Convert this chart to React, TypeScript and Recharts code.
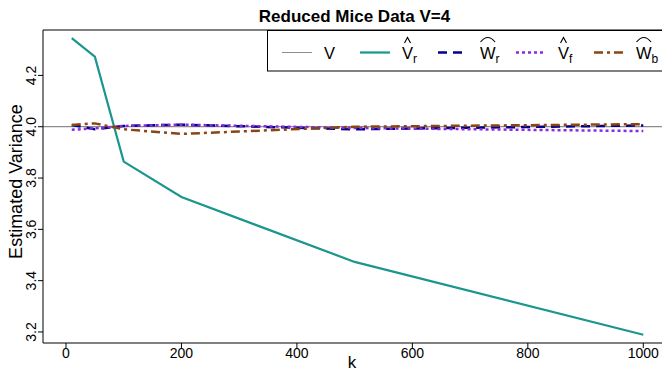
import React from 'react';
import { LineChart, Line, XAxis, YAxis, ReferenceLine } from 'recharts';

// ---- data ----
const K_VALUES = [10, 50, 100, 200, 500, 1000];
const TRUE_V = 4;
const V_R_HAT = [4.345, 4.273, 3.864, 3.726, 3.473, 3.189];
const W_R_HAT = [4.007, 3.99, 4.003, 4.008, 3.99, 4.005];
const V_F_HAT = [3.988, 3.994, 4.003, 4.008, 3.995, 3.983];
const W_B_HAT = [4.007, 4.013, 3.99, 3.972, 4.0, 4.01];
const X_TICKS = [0, 200, 400, 600, 800, 1000];
const Y_TICKS = [3.2, 3.4, 3.6, 3.8, 4.0, 4.2];
const X_DOMAIN: [number, number] = [-39.8, 1032.4];
const Y_DOMAIN: [number, number] = [3.157, 4.377];

const data = K_VALUES.map((k, i) => ({
  k,
  vr: V_R_HAT[i],
  wr: W_R_HAT[i],
  vf: V_F_HAT[i],
  wb: W_B_HAT[i],
}));

const FONT = '"Liberation Sans", Arial, Helvetica, sans-serif';

const C_TEAL = '#1a968e';
const C_NAVY = '#00008b';
const C_PURPLE = '#8a2be2';
const C_BROWN = '#8b4513';
const C_GRAY = '#8c8c8c';

const DASH_NAVY = '9 6';
const DASH_PURPLE = '3 3';
const DASH_BROWN = '9 4 3 4';

const XTick = (props: any) => {
  const { x, payload } = props;
  return (
    <text x={x} y={358} textAnchor="middle" fontSize={14} fontFamily={FONT} fill="#000">
      {payload.value}
    </text>
  );
};

const YTick = (props: any) => {
  const { y, payload } = props;
  const tx = 36;
  return (
    <text
      x={tx}
      y={y}
      textAnchor="middle"
      fontSize={14}
      fontFamily={FONT}
      fill="#000"
      transform={`rotate(-90, ${tx}, ${y})`}
    >
      {Number(payload.value).toFixed(1)}
    </text>
  );
};

type LegendItem = {
  color: string;
  dash?: string;
  width: number;
  base: string;
  sub?: string;
  hat?: 'narrow' | 'wide';
};

const LEGEND_ITEMS: LegendItem[] = [
  { color: C_GRAY, width: 1, base: 'V' },
  { color: C_TEAL, width: 2.2, base: 'V', sub: 'r', hat: 'narrow' },
  { color: C_NAVY, width: 2.5, dash: DASH_NAVY, base: 'W', sub: 'r', hat: 'wide' },
  { color: C_PURPLE, width: 2.5, dash: DASH_PURPLE, base: 'V', sub: 'f', hat: 'narrow' },
  { color: C_BROWN, width: 2.5, dash: DASH_BROWN, base: 'W', sub: 'b', hat: 'wide' },
];

const Overlay = () => {
  const lineY = 52.5;
  const textY = 58.5;
  const fs = 16.5;
  return (
    <svg
      width={662}
      height={373}
      style={{ position: 'absolute', left: 0, top: 0, pointerEvents: 'none' }}
    >
      <text x={354.5} y={22} textAnchor="middle" fontSize={17} fontWeight="bold" fontFamily={FONT} fill="#000">
        Reduced Mice Data V=4
      </text>
      <text
        x={21.5}
        y={181.5}
        textAnchor="middle"
        fontSize={18}
        fontFamily={FONT}
        fill="#000"
        transform="rotate(-90, 21.5, 181.5)"
      >
        Estimated Variance
      </text>
      <text x={352} y={368} textAnchor="middle" fontSize={17} fontFamily={FONT} fill="#000">
        k
      </text>
      <rect x={267.5} y={30.5} width={500} height={40.5} fill="#fff" stroke="#000" strokeWidth={1} />
      {LEGEND_ITEMS.map((it, i) => {
        const x0 = 282 + 78 * i;
        const tx = x0 + 42;
        const bw = it.base === 'W' ? fs * 0.944 : fs * 0.667;
        const cx = tx + bw / 2;
        return (
          <g key={i}>
            <line
              x1={x0}
              x2={x0 + 30}
              y1={lineY}
              y2={lineY}
              stroke={it.color}
              strokeWidth={it.width}
              strokeDasharray={it.dash}
            />
            <text x={tx} y={textY} fontSize={fs} fontFamily={FONT} fill="#000">
              {it.base}
              {it.sub ? (
                <tspan fontSize={12} dy={4}>
                  {it.sub}
                </tspan>
              ) : null}
            </text>
            {it.hat === 'narrow' ? (
              <path
                d={`M ${cx - 3} 43 L ${cx} 37.5 L ${cx + 3} 43`}
                fill="none"
                stroke="#000"
                strokeWidth={1.1}
              />
            ) : null}
            {it.hat === 'wide' ? (
              <path
                d={`M ${tx + 0.5} 42 Q ${cx} 33 ${tx + bw - 0.5} 42`}
                fill="none"
                stroke="#000"
                strokeWidth={1.1}
              />
            ) : null}
          </g>
        );
      })}
    </svg>
  );
};

export default function App() {
  return (
    <div
      style={{
        position: 'absolute',
        left: 0,
        top: 0,
        width: 662,
        height: 373,
        background: '#fff',
        overflow: 'hidden',
        fontFamily: FONT,
      }}
    >
      <LineChart width={662} height={373} data={data} margin={{ top: 30, right: 0, bottom: 0, left: 0 }}>
        <XAxis
          dataKey="k"
          type="number"
          domain={X_DOMAIN}
          ticks={X_TICKS}
          interval={0}
          allowDataOverflow
          height={30}
          tickSize={5}
          axisLine={{ stroke: '#000', strokeWidth: 1 }}
          tickLine={{ stroke: '#000', strokeWidth: 1 }}
          tick={XTick}
        />
        <YAxis
          type="number"
          domain={Y_DOMAIN}
          ticks={Y_TICKS}
          interval={0}
          allowDataOverflow
          width={43}
          tickSize={5}
          axisLine={{ stroke: '#000', strokeWidth: 1 }}
          tickLine={{ stroke: '#000', strokeWidth: 1 }}
          tick={YTick}
        />
        <ReferenceLine y={Y_DOMAIN[1]} stroke="#000" strokeWidth={1} />
        <ReferenceLine y={TRUE_V} stroke={C_GRAY} strokeWidth={1.2} />
        <Line dataKey="vr" stroke={C_TEAL} strokeWidth={2.2} dot={false} isAnimationActive={false} />
        <Line dataKey="wr" stroke={C_NAVY} strokeWidth={2.5} strokeDasharray={DASH_NAVY} dot={false} isAnimationActive={false} />
        <Line dataKey="vf" stroke={C_PURPLE} strokeWidth={2.5} strokeDasharray={DASH_PURPLE} dot={false} isAnimationActive={false} />
        <Line dataKey="wb" stroke={C_BROWN} strokeWidth={2.5} strokeDasharray={DASH_BROWN} dot={false} isAnimationActive={false} />
      </LineChart>
      <Overlay />
    </div>
  );
}
